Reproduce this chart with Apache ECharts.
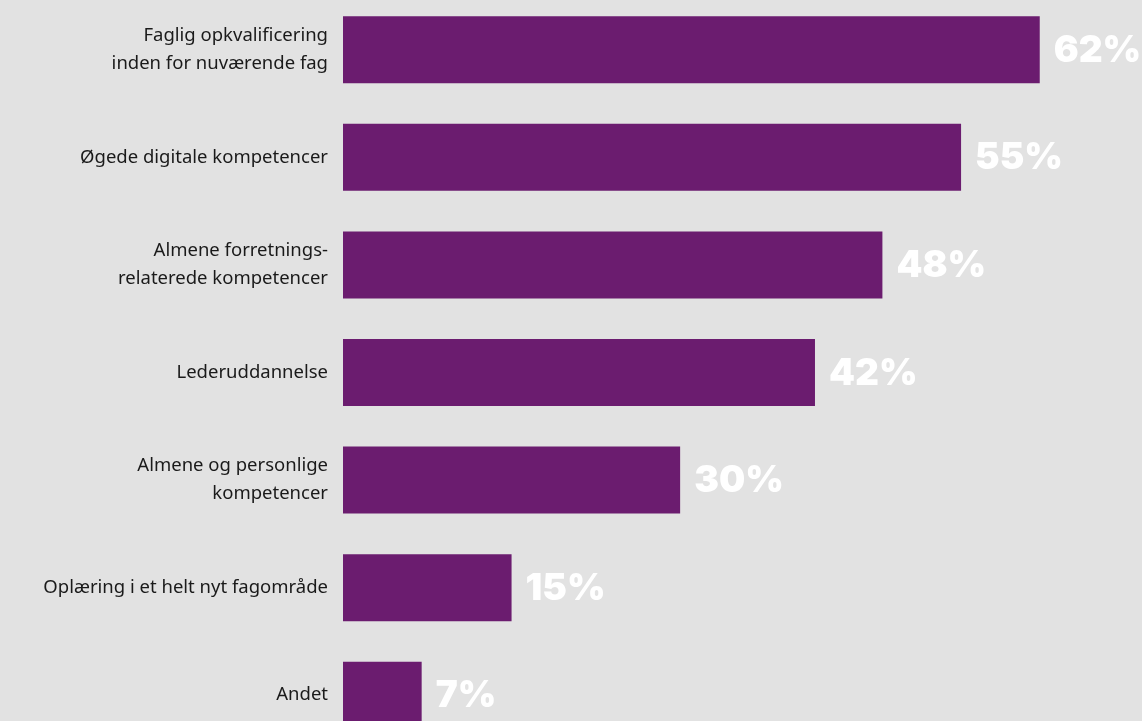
<!DOCTYPE html>
<html>
<head>
<meta charset="utf-8">
<script src="https://cdn.jsdelivr.net/npm/echarts@6/dist/echarts.min.js"></script>
<style>
  html, body { margin: 0; padding: 0; background: #e2e2e2; overflow: hidden; }
  /* the last band runs past the bottom edge of the page */
  #chart { position: absolute; left: 0; top: -4px; width: 1142px; height: 753px; }
</style>
</head>
<body>
<div id="chart"></div>
<script>
// Ønskede typer af efteruddannelse (andel i procent)
const categories = [
  'Faglig opkvalificering\ninden for nuværende fag',
  'Øgede digitale kompetencer',
  'Almene forretnings-\nrelaterede kompetencer',
  'Lederuddannelse',
  'Almene og personlige\nkompetencer',
  'Oplæring i et helt nyt fagområde',
  'Andet'
];
const values = [62, 55, 48, 42, 30, 15, 7];

const chart = echarts.init(document.getElementById('chart'), null, { renderer: 'canvas' });

chart.setOption({
  backgroundColor: '#e2e2e2',
  animation: false,
  grid: { left: 343, right: 0, top: 0, bottom: 0, containLabel: false },
  xAxis: {
    type: 'value',
    min: 0,
    max: 71.1,
    show: false
  },
  yAxis: {
    type: 'category',
    data: categories,
    inverse: true,
    axisLine: { show: false },
    axisTick: { show: false },
    splitLine: { show: false },
    axisLabel: {
      margin: 15,
      color: '#1a1a1a',
      fontSize: 18.5,
      lineHeight: 28,
      fontFamily: 'Noto Sans',
      align: 'right'
    }
  },
  series: [{
    type: 'bar',
    data: values,
    barWidth: 67,
    itemStyle: { color: '#6b1c6f' },
    label: {
      show: true,
      position: 'right',
      distance: 14,
      offset: [0, 1],
      formatter: '{c}%',
      color: '#ffffff',
      fontSize: 37,
      fontWeight: 900,
      fontFamily: 'Inter'
    }
  }]
});
</script>
</body>
</html>
